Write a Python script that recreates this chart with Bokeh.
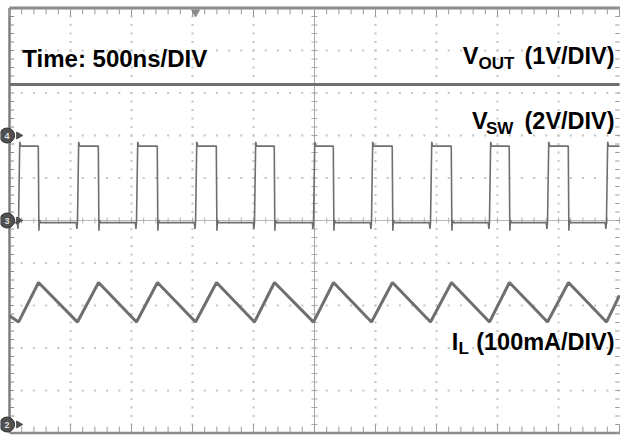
import numpy as np
from bokeh.plotting import figure
from bokeh.models import Label, Range1d
from bokeh.embed import file_html
from bokeh.resources import INLINE

# ---- scope settings (per division) ----
TIME_PER_DIV_NS = 500.0
VOUT_V_PER_DIV = 1.0
VSW_V_PER_DIV = 2.0
IL_MA_PER_DIV = 100.0
VOUT_GND_DIV = 2.0     # channel 4 marker
VSW_GND_DIV = 0.0      # channel 3 marker
IL_GND_DIV = -4.8      # channel 2 marker
T_END_NS = 5000.0

# ---- data ----
vout_t_ns = [0.0, 5000.0]
vout_v = [1.2, 1.2]

vsw_rise_ns = [74, 557, 1041, 1525, 2008, 2492, 2967, 3451, 3934, 4410, 4893]
vsw_fall_ns = [238, 730, 1213, 1697, 2172, 2656, 3139, 3623, 4098, 4582]
vsw_high_v = 3.5
vsw_low_v = -0.1

il_t_ns = [0, 74, 238, 557, 730, 1041, 1213, 1525, 1697, 2008, 2172,
           2492, 2656, 2967, 3139, 3451, 3623, 3934, 4098, 4410, 4582,
           4893, 5000]
il_ma = [256, 241, 334, 241, 334, 241, 334, 241, 334, 241, 334,
         241, 334, 241, 334, 241, 334, 241, 334, 241, 334,
         241, 304]

TRACE = "#6f6f6f"
FONT = "Liberation Sans"


def vsw_path(rises, falls):
    t = [0.0]
    v = [vsw_low_v]
    for i, r in enumerate(rises):
        t += [r - 10, r - 5, r, r + 10, r + 18]
        v += [vsw_low_v, vsw_low_v - 0.3, vsw_low_v, vsw_high_v + 0.2, vsw_high_v]
        if i < len(falls):
            f = falls[i]
            t += [f - 2, f + 3, f + 8, f + 16]
            v += [vsw_high_v, vsw_low_v - 0.38, vsw_low_v + 0.12, vsw_low_v]
        else:
            t += [T_END_NS]
            v += [vsw_high_v]
    return t, v


W, H = 620, 436
p = figure(width=W, height=H, output_backend="svg", toolbar_location=None,
           x_axis_type=None, y_axis_type=None,
           x_range=Range1d(-9 / 61, 611 / 61),
           y_range=Range1d(-(436 - 220) / 42.5, 220 / 42.5),
           min_border=0)
p.outline_line_color = None
p.background_fill_color = "white"
p.border_fill_color = "white"
p.grid.visible = False

# ---- graticule ----
minor = np.round(np.arange(0, 10.001, 0.2), 3)
minor_y = np.round(np.arange(-5, 5.001, 0.2), 3)
gx, gy = [], []
for mx in [1, 2, 3, 4, 6, 7, 8, 9]:
    gx += [mx] * len(minor_y)
    gy += list(minor_y)
for my in [-4, -3, -2, -1, 1, 2, 3, 4]:
    gx += list(minor)
    gy += [my] * len(minor)
p.scatter(gx, gy, marker="square", size=2, color="#c4c4c4", line_width=0)

# center crosshair with ticks
p.line([5, 5], [-5, 5], color="#a8a8a8", line_width=1)
p.line([0, 10], [0, 0], color="#b8b8b8", line_width=1)
p.segment(x0=[4.95] * len(minor_y), y0=minor_y, x1=[5.05] * len(minor_y), y1=minor_y,
          color="#a8a8a8", line_width=1)
p.segment(x0=minor, y0=[-0.07] * len(minor), x1=minor, y1=[0.07] * len(minor),
          color="#b0b0b0", line_width=1)

# borders with ticks
p.line([0, 0], [-5, 5], color="#7d7d7d", line_width=2.5)
p.line([0, 10.02], [5, 5], color="#8a8a8a", line_width=3)
p.line([0, 10.02], [-5, -5], color="#8a8a8a", line_width=2.5)
p.segment(x0=[0] * len(minor_y), y0=minor_y, x1=[0.075] * len(minor_y), y1=minor_y,
          color="#8a8a8a", line_width=1)
p.segment(x0=[9.93] * len(minor_y), y0=minor_y, x1=[10.0] * len(minor_y), y1=minor_y,
          color="#9a9a9a", line_width=1)
top_len = [0.2 if abs(v - round(v)) < 1e-6 else 0.15 for v in minor]
p.segment(x0=minor, y0=[5] * len(minor), x1=minor, y1=[5 - l for l in top_len],
          color="#9a9a9a", line_width=1)
p.segment(x0=minor, y0=[-5] * len(minor), x1=minor, y1=[-5 + l for l in top_len],
          color="#9a9a9a", line_width=1)

# trigger position marker
p.scatter([3.05], [4.9], marker="inverted_triangle", size=8, color="#8a8a8a")

# ---- traces ----
def tx(ts):
    return [t / TIME_PER_DIV_NS for t in ts]

p.line(tx(vout_t_ns), [VOUT_GND_DIV + v / VOUT_V_PER_DIV for v in vout_v],
       color=TRACE, line_width=3)
st, sv = vsw_path(vsw_rise_ns, vsw_fall_ns)
p.line(tx(st), [VSW_GND_DIV + v / VSW_V_PER_DIV for v in sv],
       color=TRACE, line_width=1.6)
p.line(tx(il_t_ns), [IL_GND_DIV + i / IL_MA_PER_DIV for i in il_ma],
       color=TRACE, line_width=3)

# ---- channel ground markers ----
markers = [("4", VOUT_GND_DIV), ("3", VSW_GND_DIV), ("2", IL_GND_DIV)]
for lab_txt, yy in markers:
    p.scatter([-0.04], [yy], marker="circle", size=15, fill_color="#505050",
              line_color="#333333", line_width=1)
    p.scatter([0.15], [yy], marker="triangle", angle=-np.pi / 2, size=7,
              color="#505050")
    p.add_layout(Label(x=-0.04, y=yy, text=lab_txt, text_align="center",
                       text_baseline="middle", text_font=FONT,
                       text_font_size="9px", text_color="#e0e0e0",
                       text_font_style="bold"))

# ---- labels ----
DY = 0.21  # baseline correction


def lab(x, y, text, size, align="left"):
    p.add_layout(Label(x=x, y=y + DY, text=text, text_align=align,
                       text_baseline="alphabetic", text_font=FONT,
                       text_font_size=size, text_font_style="bold",
                       text_color="black"))

lab(0.21, 3.6, "Time: 500ns/DIV", "24px")
lab(7.43, 3.65, "V", "23.5px")
lab(7.69, 3.48, "OUT", "17px")
lab(9.92, 3.65, "(1V/DIV)", "23.5px", "right")
lab(7.58, 2.12, "V", "23.5px")
lab(7.81, 1.95, "SW", "17px")
lab(9.92, 2.12, "(2V/DIV)", "23.5px", "right")
lab(7.25, -3.06, "I", "23.5px")
lab(7.36, -3.22, "L", "17px")
lab(9.92, -3.06, "(100mA/DIV)", "23.5px", "right")

open("out.html", "w").write(file_html(p, INLINE))
